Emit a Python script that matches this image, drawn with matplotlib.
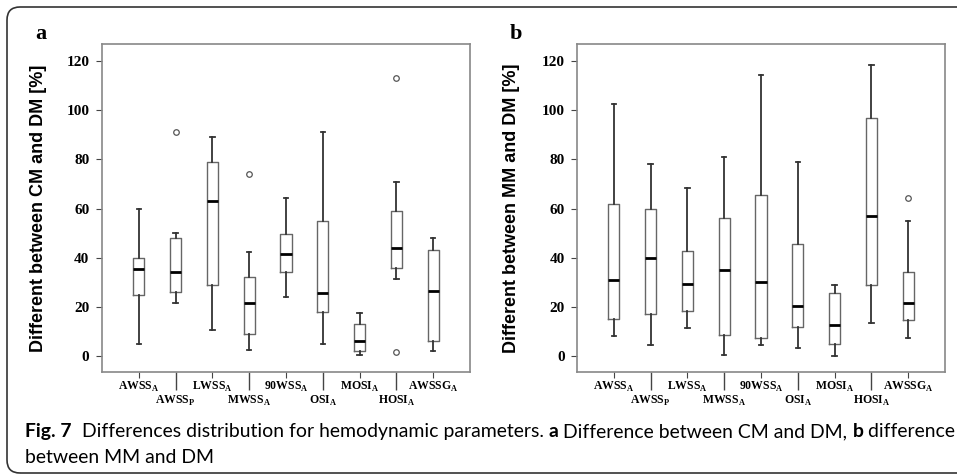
import numpy as np
import matplotlib.pyplot as plt
from matplotlib.patches import FancyBboxPatch
from matplotlib.transforms import IdentityTransform

plt.rcParams['mathtext.fontset'] = 'custom'
plt.rcParams['mathtext.rm'] = 'Liberation Serif:bold'

#categories (subscript letter kept apart)
names = ["AWSS", "AWSS", "LWSS", "MWSS", "90WSS", "OSI", "MOSI", "HOSI", "AWSSG"]
subs = ["A", "P", "A", "A", "A", "A", "A", "A", "A"]

#panel a: CM vs DM
a_whislo = [5, 21.5, 10.5, 2.5, 24, 5, 0.3, 31.5, 2]
a_q1 = [25, 26, 29, 9, 34, 18, 2, 36, 6]
a_med = [35.5, 34, 63, 21.5, 41.5, 25.5, 6, 44, 26.5]
a_q3 = [40, 48, 79, 32, 49.5, 55, 13, 59, 43]
a_whishi = [60, 50, 89, 42.5, 64.5, 91, 17.5, 71, 48]
a_fliers = [[], [91], [], [74], [], [], [], [113, 1.5], []]

#panel b: MM vs DM
b_whislo = [8, 4.3, 11.5, 0.5, 4.5, 3.3, 0, 13.5, 7.5]
b_q1 = [15, 17, 18.3, 8.7, 7.2, 11.8, 5, 29, 14.5]
b_med = [31, 40, 29.5, 35, 30.3, 20.3, 12.5, 57, 21.5]
b_q3 = [62, 60, 42.8, 56, 65.5, 45.5, 25.5, 97, 34]
b_whishi = [102.5, 78.3, 68.4, 81, 114.3, 78.8, 29, 118.5, 55]
b_fliers = [[], [], [], [], [], [], [], [], [64.5]]

ylabels = ["Different between CM and DM [%]", "Different between MM and DM [%]"]
panel_tags = ["a", "b"]


def make_stats(lo, q1, med, q3, hi, fl):
    return [dict(whislo=lo[i], q1=q1[i], med=med[i], q3=q3[i], whishi=hi[i],
                 fliers=fl[i]) for i in range(len(med))]


W, H = 957, 475
fig = plt.figure(figsize=(W / 100, H / 100), dpi=100)

#outer frame
frame = FancyBboxPatch((7, 2), 1100, 466, boxstyle="round,pad=0,rounding_size=13",
                       transform=IdentityTransform(), fill=False, ec="#333333", lw=1.2)
fig.patches.append(frame)

lefts = [102, 577]
label_x = [39, 512]
datas = [(a_whislo, a_q1, a_med, a_q3, a_whishi, a_fliers),
         (b_whislo, b_q1, b_med, b_q3, b_whishi, b_fliers)]
pos = np.arange(1, len(names) + 1)
labels = [f"{n}$_{{\\mathrm{{{s}}}}}$" for n, s in zip(names, subs)]
serif = dict(family="Liberation Serif", weight="bold")

for k in range(2):
    ax = fig.add_axes([lefts[k] / W, (H - 372) / H, 368 / W, (372 - 44) / H])
    stats = make_stats(*datas[k])
    ax.bxp(stats, positions=pos, widths=0.3, capwidths=0.12,
           boxprops=dict(color="#666666", lw=1.0),
           whiskerprops=dict(color="#333333", lw=1.3),
           capprops=dict(color="#333333", lw=1.3),
           medianprops=dict(color="black", lw=2.0),
           flierprops=dict(marker="o", markersize=4, mfc="none", mec="#555555", mew=0.9))
    ax.set_xlim(0, 10)
    ax.set_ylim(-6.5, 127)
    ax.set_yticks([0, 20, 40, 60, 80, 100, 120])
    ax.set_yticklabels([0, 20, 40, 60, 80, 100, 120], fontdict=dict(size=11, **serif))
    #odd categories on the upper row, even ones lower with long ticks
    ax.set_xticks(pos[::2])
    ax.set_xticklabels(labels[::2], fontdict=dict(size=8.5, **serif))
    ax.set_xticks(pos[1::2], minor=True)
    ax.set_xticklabels(labels[1::2], minor=True, fontdict=dict(size=8.5, **serif))
    ax.tick_params(axis="x", which="major", length=4, pad=2, color="#444444")
    ax.tick_params(axis="x", which="minor", length=13, pad=2.5, color="#444444", width=1)
    ax.tick_params(axis="y", length=4, pad=5, color="#444444")
    for sp in ax.spines.values():
        sp.set_color("#888888")
        sp.set_linewidth(1.2)
    ax.set_ylabel(ylabels[k], family="Liberation Sans", weight="bold", size=13)
    ax.yaxis.set_label_coords((label_x[k] - lefts[k]) / 368, 0.5)
    ax.yaxis.label.set_va("center")
    fig.text((lefts[k] - 61) / W, 1 - 34 / H, panel_tags[k], ha="center", va="center",
             size=16, **serif)

#caption, drawn run by run, sized so line 1 spans the frame
cap_font = "Lato"
line1 = [("Fig. 7", "bold"), ("  Differences distribution for hemodynamic parameters. ", "normal"),
         ("a", "bold"), (" Difference between CM and DM, ", "normal"),
         ("b", "bold"), (" difference", "normal")]
line2 = [("between MM and DM", "normal")]
renderer = fig.canvas.get_renderer()
probe = 0
for txt, wt in line1:
    t = fig.text(0, 0, txt, family=cap_font, weight=wt, size=13)
    probe += t.get_window_extent(renderer).width
    t.remove()
cap_size = 13 * 925 / probe
for runs, ybase in [(line1, 437), (line2, 463)]:
    x = 25
    for txt, wt in runs:
        t = fig.text(x / W, 1 - ybase / H, txt, ha="left", va="baseline",
                     family=cap_font, weight=wt, size=cap_size)
        x += t.get_window_extent(renderer).width

fig.savefig("out.png", dpi=100)
